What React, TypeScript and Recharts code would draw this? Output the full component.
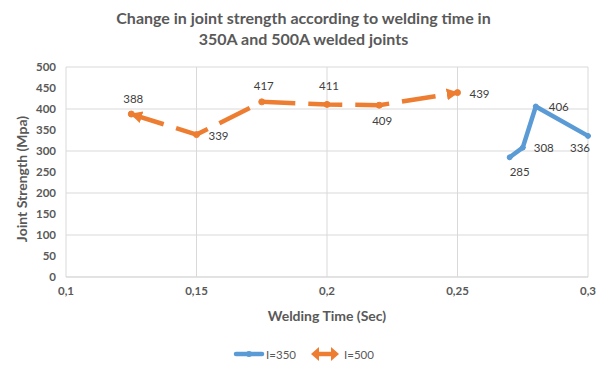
import React from 'react';
import { LineChart, Line, XAxis, YAxis, CartesianGrid, Label, LabelList } from 'recharts';

// I=350 series
const times350 = [0.27, 0.275, 0.28, 0.3];
const strength350 = [285, 308, 406, 336];

// I=500 series
const times500 = [0.125, 0.15, 0.175, 0.2, 0.22, 0.25];
const strength500 = [388, 339, 417, 411, 409, 439];

const xTicks = [0.1, 0.15, 0.2, 0.25, 0.3];
const yTicks = [0, 50, 100, 150, 200, 250, 300, 350, 400, 450, 500];

const title = ['Change in joint strength according to welding time in', '350A and 500A welded joints'];

// where each data label sits relative to its point (dx, dy)
const place350 = [[10, 14], [21, 0], [23, 0], [-8, 12]];
const place500 = [[2, -16], [22, 1], [2, -16], [2, -19], [3, 15], [22, 1]];

const data350 = times350.map((t, i) => ({ t, v: strength350[i] }));
const data500 = times500.map((t, i) => ({ t, v: strength500[i] }));

const BLUE = '#5B9BD5';
const ORANGE = '#ED7D31';
const FONT = 'Lato, "Open Sans", sans-serif';

const makeLabel = (place: number[][]) => (props: any) => {
  const { x, y, value, index } = props;
  const [dx, dy] = place[index] || [0, -12];
  return (
    <text x={x + dx} y={y + dy} textAnchor="middle" dominantBaseline="central"
      fontSize={11.5} fill="#404040" fontFamily={FONT}>
      {value}
    </text>
  );
};

const axisTitle = { fill: '#595959', fontSize: 14, fontWeight: 700, fontFamily: FONT };

const App = () => {
  return (
    <div style={{ position: 'absolute', left: 0, top: 0, width: 607, height: 369, background: '#fff', fontFamily: FONT }}>
      <svg width={0} height={0} style={{ position: 'absolute' }}>
        <defs>
          <marker id="arrowHead" viewBox="0 0 10 10" refX={9} refY={5} markerWidth={12} markerHeight={12}
            orient="auto-start-reverse" markerUnits="userSpaceOnUse">
            <path d="M0,0 L10,5 L0,10 z" fill={ORANGE} stroke="none" />
          </marker>
        </defs>
      </svg>
      <div style={{ position: 'absolute', top: 8, left: 0, width: 607, textAlign: 'center', fontWeight: 700, fontSize: 16, lineHeight: '20.5px', color: '#595959' }}>
        {title.map((t) => <div key={t}>{t}</div>)}
      </div>
      <LineChart width={607} height={369} margin={{ top: 67, right: 19, bottom: 47, left: 16 }}>
        <CartesianGrid stroke="#D9D9D9" />
        <XAxis dataKey="t" type="number" domain={[0.1, 0.3]} ticks={xTicks}
          tickFormatter={(v: number) => String(v).replace('.', ',')}
          tickLine={false} axisLine={{ stroke: '#D9D9D9' }} height={45} tickMargin={4}
          tick={{ fill: '#595959', fontSize: 11.5, fontWeight: 700, fontFamily: FONT }}>
          <Label content={(p: any) => {
            const vb = p.viewBox;
            return (
              <text x={vb.x + vb.width / 2} y={315} textAnchor="middle" dominantBaseline="central" {...axisTitle}>
                Welding Time (Sec)
              </text>
            );
          }} />
        </XAxis>
        <YAxis type="number" domain={[0, 500]} ticks={yTicks} width={50}
          tickLine={false} axisLine={false} tickMargin={4}
          tick={{ fill: '#595959', fontSize: 11.5, fontWeight: 700, fontFamily: FONT }}>
          <Label content={(p: any) => {
            const vb = p.viewBox;
            const cy = vb.y + vb.height / 2 + 7;
            return (
              <text x={21} y={cy} transform={`rotate(-90 21 ${cy})`} textAnchor="middle" dominantBaseline="central" {...axisTitle}>
                Joint Strength (Mpa)
              </text>
            );
          }} />
        </YAxis>
        <Line data={data350} dataKey="v" type="linear" stroke={BLUE} strokeWidth={4.5}
          strokeLinejoin="round" strokeLinecap="round"
          dot={{ r: 2.5, fill: BLUE, stroke: BLUE, strokeWidth: 1 }} isAnimationActive={false}>
          <LabelList dataKey="v" content={makeLabel(place350)} />
        </Line>
        <Line data={data500} dataKey="v" type="linear" stroke={ORANGE} strokeWidth={4.5}
          strokeDasharray="34 13" markerStart="url(#arrowHead)" markerEnd="url(#arrowHead)"
          dot={{ r: 3, fill: ORANGE, stroke: ORANGE, strokeWidth: 1, strokeDasharray: '0' }} isAnimationActive={false}>
          <LabelList dataKey="v" content={makeLabel(place500)} />
        </Line>
      </LineChart>
      <div style={{ position: 'absolute', top: 346, left: 0, width: 607, display: 'flex', justifyContent: 'center', alignItems: 'center', fontSize: 11.5, color: '#595959' }}>
        <svg width={32} height={14}>
          <line x1={3} y1={7} x2={29} y2={7} stroke={BLUE} strokeWidth={4.5} strokeLinecap="round" />
          <circle cx={16} cy={7} r={3} fill={BLUE} />
        </svg>
        <span style={{ marginLeft: 1, marginRight: 14 }}>I=350</span>
        <svg width={30} height={16}>
          <path d="M1,8 L9,1 L9,15 z M29,8 L21,1 L21,15 z" fill={ORANGE} />
          <line x1={8} y1={8} x2={22} y2={8} stroke={ORANGE} strokeWidth={4.5} />
        </svg>
        <span style={{ marginLeft: 4 }}>I=500</span>
      </div>
    </div>
  );
};

export default App;
